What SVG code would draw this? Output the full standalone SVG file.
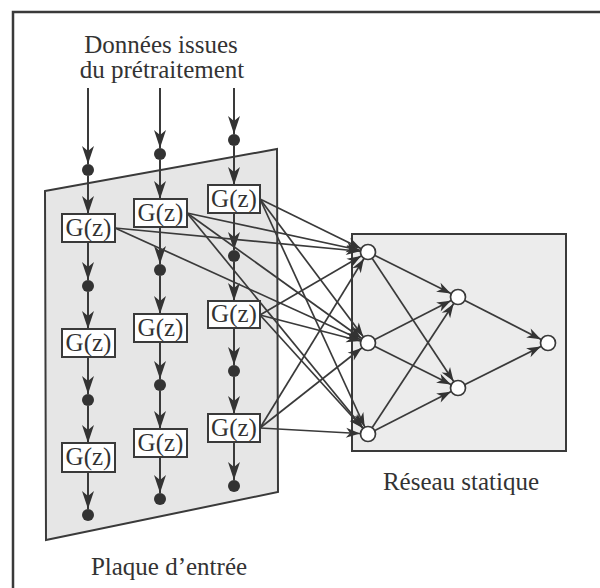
<svg xmlns="http://www.w3.org/2000/svg" width="600" height="588" viewBox="0 0 600 588" font-family="'Liberation Serif', 'Times New Roman', 'DejaVu Serif', serif">
<style>
text{font-family:'Liberation Serif','Times New Roman','DejaVu Serif',serif;fill:#333;font-size:25px}
.g{font-size:25px;text-anchor:middle}
.box{fill:#fff;stroke:#3a3a3a;stroke-width:2}
.dot{fill:#333}
.v{stroke:#3a3a3a;stroke-width:2;marker-end:url(#av)}
.c{stroke:#3a3a3a;stroke-width:1.7;marker-end:url(#an)}
.n{fill:#fff;stroke:#3a3a3a;stroke-width:1.7}
</style>
<defs>
<marker id="av" markerUnits="userSpaceOnUse" markerWidth="24" markerHeight="16" viewBox="0 -8 24 16" refX="20" refY="0" orient="auto" overflow="visible">
<path d="M20,0 L2,-6 L7,0 L2,6 Z" fill="#333"/>
</marker>
<marker id="an" markerUnits="userSpaceOnUse" markerWidth="32" markerHeight="14" viewBox="0 -7 32 14" refX="26" refY="0" orient="auto" overflow="visible">
<path d="M18,0 L4,-5 L8,0 L4,5 Z" fill="#333"/>
</marker>
</defs>
<rect width="600" height="588" fill="#fff"/>
<g id="frame" fill="none" stroke="#3a3a3a" stroke-width="2.5">
<path d="M13,588 L13,12 L600,12"/>
</g>
<g id="plaque">
<polygon points="45,191 277,149 278,492 46,540" fill="#e6e6e6" stroke="#3a3a3a" stroke-width="2"/>
<text x="169" y="575" text-anchor="middle">Plaque d’entrée</text>
</g>
<g id="reseau">
<rect x="352" y="234" width="214" height="217" fill="#ececec" stroke="#3a3a3a" stroke-width="2"/>
<text x="461" y="490" text-anchor="middle">Réseau statique</text>
</g>
<g id="titre">
<text x="161" y="53" text-anchor="middle">Données issues</text>
<text x="162" y="78" text-anchor="middle">du prétraitement</text>
</g>
<g id="connectors">
<line class="v" x1="88" y1="88" x2="88" y2="164"/>
<line class="v" x1="88" y1="176" x2="88" y2="214"/>
<line class="v" x1="88" y1="242" x2="88" y2="280"/>
<line class="v" x1="88" y1="292" x2="88" y2="329"/>
<line class="v" x1="88" y1="357" x2="88" y2="394"/>
<line class="v" x1="88" y1="406" x2="88" y2="443"/>
<line class="v" x1="88" y1="472" x2="88" y2="509"/>
<line class="v" x1="160" y1="88" x2="160" y2="148"/>
<line class="v" x1="160" y1="160" x2="160" y2="199"/>
<line class="v" x1="160" y1="227" x2="160" y2="264"/>
<line class="v" x1="160" y1="276" x2="160" y2="314"/>
<line class="v" x1="160" y1="342" x2="160" y2="379"/>
<line class="v" x1="160" y1="391" x2="160" y2="429"/>
<line class="v" x1="160" y1="457" x2="160" y2="493"/>
<line class="v" x1="234" y1="88" x2="234" y2="134"/>
<line class="v" x1="234" y1="146" x2="234" y2="185"/>
<line class="v" x1="234" y1="213" x2="234" y2="250"/>
<line class="v" x1="234" y1="262" x2="234" y2="301"/>
<line class="v" x1="234" y1="328" x2="234" y2="365"/>
<line class="v" x1="234" y1="377" x2="234" y2="414"/>
<line class="v" x1="234" y1="442" x2="234" y2="480"/>
<line class="c" x1="115" y1="228" x2="368" y2="252"/>
<line class="c" x1="115" y1="228" x2="368" y2="343"/>
<line class="c" x1="187" y1="213" x2="368" y2="252"/>
<line class="c" x1="187" y1="213" x2="368" y2="343"/>
<line class="c" x1="187" y1="213" x2="368" y2="434"/>
<line class="c" x1="260" y1="199" x2="368" y2="252"/>
<line class="c" x1="260" y1="199" x2="368" y2="343"/>
<line class="c" x1="260" y1="199" x2="368" y2="434"/>
<line class="c" x1="260" y1="315" x2="368" y2="252"/>
<line class="c" x1="260" y1="315" x2="368" y2="343"/>
<line class="c" x1="260" y1="315" x2="368" y2="434"/>
<line class="c" x1="260" y1="428" x2="368" y2="252"/>
<line class="c" x1="260" y1="428" x2="368" y2="343"/>
<line class="c" x1="260" y1="428" x2="368" y2="434"/>
<line class="c" x1="368" y1="252" x2="458" y2="297"/>
<line class="c" x1="368" y1="252" x2="458" y2="388"/>
<line class="c" x1="368" y1="343" x2="458" y2="297"/>
<line class="c" x1="368" y1="343" x2="458" y2="388"/>
<line class="c" x1="368" y1="434" x2="458" y2="297"/>
<line class="c" x1="368" y1="434" x2="458" y2="388"/>
<line class="c" x1="458" y1="297" x2="548" y2="343"/>
<line class="c" x1="458" y1="388" x2="548" y2="343"/>
</g>
<g id="dots">
<circle class="dot" cx="88" cy="170" r="6"/>
<circle class="dot" cx="88" cy="286" r="6"/>
<circle class="dot" cx="88" cy="400" r="6"/>
<circle class="dot" cx="88" cy="515" r="6"/>
<circle class="dot" cx="160" cy="154" r="6"/>
<circle class="dot" cx="160" cy="270" r="6"/>
<circle class="dot" cx="160" cy="385" r="6"/>
<circle class="dot" cx="160" cy="499" r="6"/>
<circle class="dot" cx="234" cy="140" r="6"/>
<circle class="dot" cx="234" cy="256" r="6"/>
<circle class="dot" cx="234" cy="371" r="6"/>
<circle class="dot" cx="234" cy="486" r="6"/>
</g>
<g id="g11"><rect class="box" x="62" y="214" width="53" height="28"/><text class="g" x="88.5" y="236">G(z)</text></g>
<g id="g12"><rect class="box" x="62" y="329" width="53" height="28"/><text class="g" x="88.5" y="351">G(z)</text></g>
<g id="g13"><rect class="box" x="62" y="443" width="53" height="29"/><text class="g" x="88.5" y="465">G(z)</text></g>
<g id="g21"><rect class="box" x="134" y="199" width="53" height="28"/><text class="g" x="160.5" y="221">G(z)</text></g>
<g id="g22"><rect class="box" x="134" y="314" width="53" height="28"/><text class="g" x="160.5" y="336">G(z)</text></g>
<g id="g23"><rect class="box" x="134" y="429" width="53" height="28"/><text class="g" x="160.5" y="451">G(z)</text></g>
<g id="g31"><rect class="box" x="208" y="185" width="52" height="28"/><text class="g" x="234" y="207">G(z)</text></g>
<g id="g32"><rect class="box" x="208" y="301" width="52" height="27"/><text class="g" x="234" y="322">G(z)</text></g>
<g id="g33"><rect class="box" x="208" y="414" width="52" height="28"/><text class="g" x="234" y="436">G(z)</text></g>
<g id="n1"><circle class="n" cx="368" cy="252" r="7.5"/></g>
<g id="n2"><circle class="n" cx="368" cy="343" r="7.5"/></g>
<g id="n3"><circle class="n" cx="368" cy="434" r="7.5"/></g>
<g id="h1"><circle class="n" cx="458" cy="297" r="7.5"/></g>
<g id="h2"><circle class="n" cx="458" cy="388" r="7.5"/></g>
<g id="o1"><circle class="n" cx="548" cy="343" r="7.5"/></g>
</svg>
